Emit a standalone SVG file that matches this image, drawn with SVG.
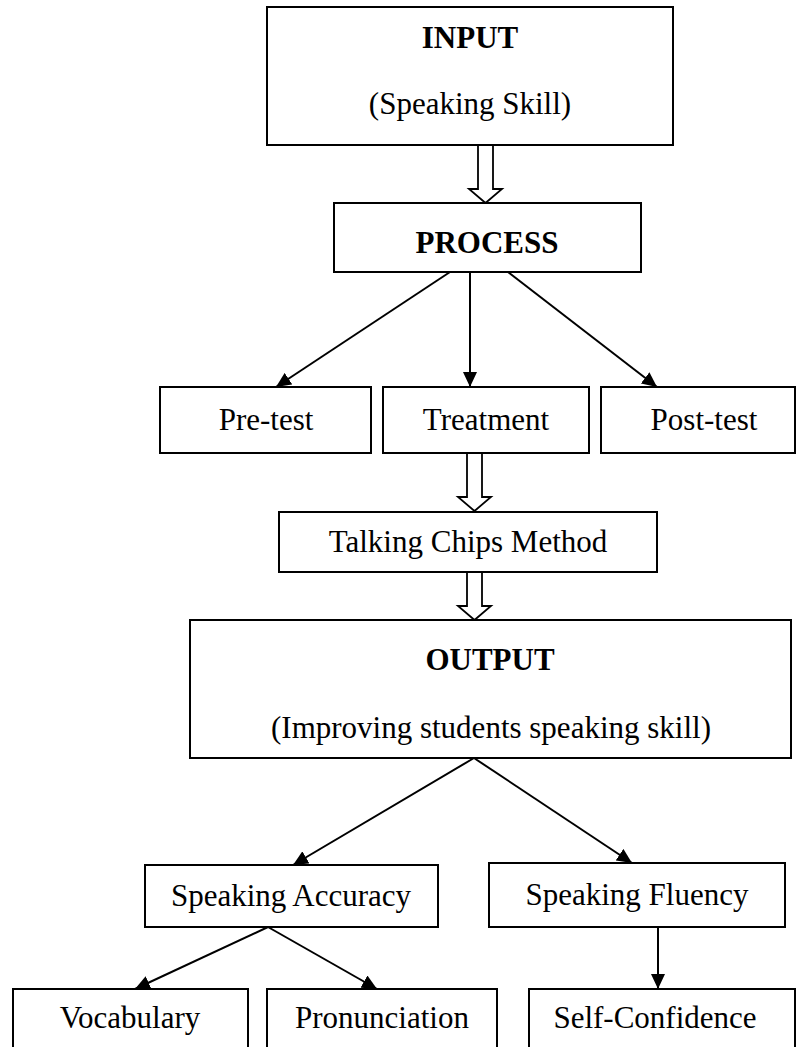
<svg xmlns="http://www.w3.org/2000/svg" width="797" height="1047" viewBox="0 0 797 1047">
<defs>
<style>
.box{fill:#fff;stroke:#000;stroke-width:2}
.t{font-family:"Liberation Serif","Times New Roman",serif;font-size:31px;fill:#000;text-anchor:middle}
.b{font-weight:bold}
.ln{stroke:#000;stroke-width:2;fill:none;marker-end:url(#ah)}
.hollow{fill:#fff;stroke:#000;stroke-width:1.8;stroke-linejoin:miter}
</style>
<marker id="ah" markerUnits="userSpaceOnUse" markerWidth="16" markerHeight="14" refX="15" refY="7" orient="auto">
<path d="M0,0 L15,7 L0,14 Z" fill="#000"/>
</marker>
</defs>
<rect width="797" height="1047" fill="#fff"/>
<g id="connectors">
<path class="hollow" d="M478,145 L478,189 L469,189 L485.5,203 L502,189 L493,189 L493,145"/>
<path class="hollow" d="M467,453 L467,497 L458,497 L474.5,511 L491,497 L482,497 L482,453"/>
<path class="hollow" d="M467,572 L467,606 L458,606 L474.5,620 L491,606 L482,606 L482,572"/>
<line class="ln" x1="450" y1="272" x2="276" y2="387"/>
<line class="ln" x1="470" y1="272" x2="470" y2="387"/>
<line class="ln" x1="508" y1="272" x2="657" y2="387"/>
<line class="ln" x1="474" y1="758" x2="293" y2="865"/>
<line class="ln" x1="474" y1="758" x2="632" y2="863"/>
<line class="ln" x1="268" y1="927" x2="135" y2="989"/>
<line class="ln" x1="268" y1="927" x2="377" y2="989"/>
<line class="ln" x1="658" y1="927" x2="658" y2="989"/>
</g>
<g id="input">
<rect class="box" x="267" y="7" width="406" height="138"/>
<text class="t b" x="470" y="48">INPUT</text>
<text class="t" x="470" y="114">(Speaking Skill)</text>
</g>
<g id="process">
<rect class="box" x="334" y="203" width="307" height="69"/>
<text class="t b" x="487" y="253">PROCESS</text>
</g>
<g id="pretest">
<rect class="box" x="160" y="387" width="211" height="66"/>
<text class="t" x="266" y="430">Pre-test</text>
</g>
<g id="treatment">
<rect class="box" x="383" y="387" width="206" height="66"/>
<text class="t" x="486" y="430">Treatment</text>
</g>
<g id="posttest">
<rect class="box" x="601" y="387" width="194" height="66"/>
<text class="t" x="704" y="430">Post-test</text>
</g>
<g id="talkingchips">
<rect class="box" x="279" y="512" width="378" height="60"/>
<text class="t" x="468" y="552">Talking Chips Method</text>
</g>
<g id="output">
<rect class="box" x="190" y="620" width="601" height="138"/>
<text class="t b" x="490" y="670">OUTPUT</text>
<text class="t" x="491" y="738">(Improving students speaking skill)</text>
</g>
<g id="accuracy">
<rect class="box" x="145" y="865" width="293" height="62"/>
<text class="t" x="291" y="906">Speaking Accuracy</text>
</g>
<g id="fluency">
<rect class="box" x="489" y="863" width="296" height="64"/>
<text class="t" x="637" y="905">Speaking Fluency</text>
</g>
<g id="vocabulary">
<rect class="box" x="13" y="989" width="235" height="80"/>
<text class="t" x="130" y="1028">Vocabulary</text>
</g>
<g id="pronunciation">
<rect class="box" x="267" y="989" width="230" height="80"/>
<text class="t" x="382" y="1028">Pronunciation</text>
</g>
<g id="selfconfidence">
<rect class="box" x="529" y="989" width="266" height="80"/>
<text class="t" x="655" y="1028">Self-Confidence</text>
</g>
</svg>
